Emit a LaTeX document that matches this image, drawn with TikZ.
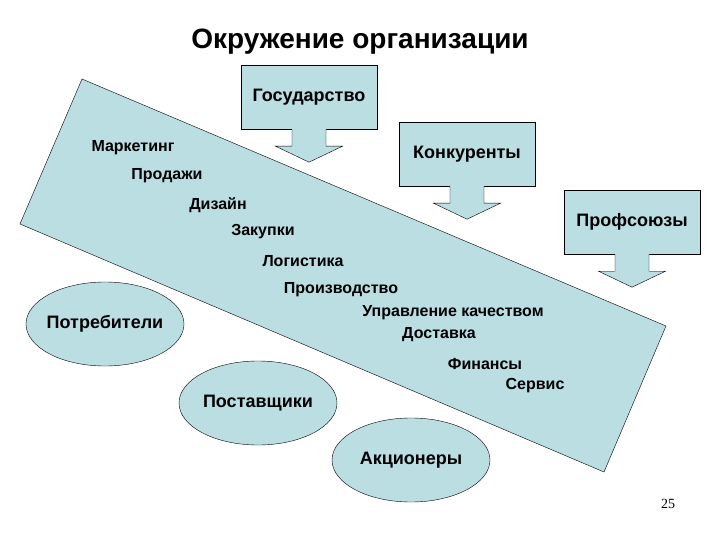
\documentclass[tikz,border=0pt]{standalone}
\usepackage{fontspec}
\setmainfont{Liberation Sans}
\newfontfamily\pagefont{Liberation Serif}
\usetikzlibrary{shapes.geometric}

\definecolor{bandblue}{RGB}{186,222,226}

\begin{document}
\begin{tikzpicture}[x=1pt,y=-1pt,
    item/.style={font=\bfseries\fontsize{16}{18}\selectfont},
    outside/.style={draw,fill=bandblue,font=\bfseries\fontsize{18}{20}\selectfont,
      minimum width=136pt,minimum height=64pt,inner sep=0pt},
    partner/.style={draw,fill=bandblue,ellipse,font=\bfseries\fontsize{18}{20}\selectfont,
      minimum width=158pt,minimum height=84pt,inner sep=0pt,inner xsep=-6pt}]
      % \draw[help lines](0,0) grid[step=20] (720,540);
      \useasboundingbox (0,0) rectangle (720,540);

      \draw (360,42) node (title) {\bfseries\fontsize{28}{32}\selectfont Окружение организации};

      % the organisation
      \filldraw[fill=bandblue] (82,79) coordinate (org1) -- (666,326) coordinate (org2)
        -- (604,472) coordinate (org3) -- (20,224) coordinate (org4) -- cycle;

      \draw (133,148) node[item] (market) {Маркетинг};
      \draw (167,176) node[item] (sales) {Продажи};
      \draw (218,205) node[item] (design) {Дизайн};
      \draw (263,232) node[item] (purchase) {Закупки};
      \draw (303,261) node[item] (logist) {Логистика};
      \draw (341,290) node[item] (product) {Производство};
      \draw (453,313) node[item] (quality) {Управление качеством};
      \draw (439,335) node[item] (deliver) {Доставка};
      \draw (485,364) node[item] (finance) {Финансы};
      \draw (535,386) node[item] (service) {Сервис};

      % forces acting from outside
      \draw (309,97) node[outside] (state) {Государство};
      \draw (467,154) node[outside] (rivals) {Конкуренты};
      \draw (632,222) node[outside] (unions) {Профсоюзы};

      \foreach \n in {state,rivals,unions} {
        \fill[bandblue] (\n.south) ++(-17,-1) -- ++(0,18) -- ++(-16.5,0) -- ++(33.5,16)
          -- ++(33.5,-16) -- ++(-16.5,0) -- ++(0,-18) -- cycle;
        \draw (\n.south) ++(-17,0) -- ++(0,17) -- ++(-16.5,0) -- ++(33.5,16)
          -- ++(33.5,-16) -- ++(-16.5,0) -- ++(0,-17);
      }

      \draw (105,324) node[partner] (consumers) {Потребители};
      \draw (258,403) node[partner] (suppliers) {Поставщики};
      \draw (411,460) node[partner] (holders) {Акционеры};

      \draw (668,504) node (page) {\pagefont\fontsize{14}{16}\selectfont 25};
    \end{tikzpicture}
\end{document}
